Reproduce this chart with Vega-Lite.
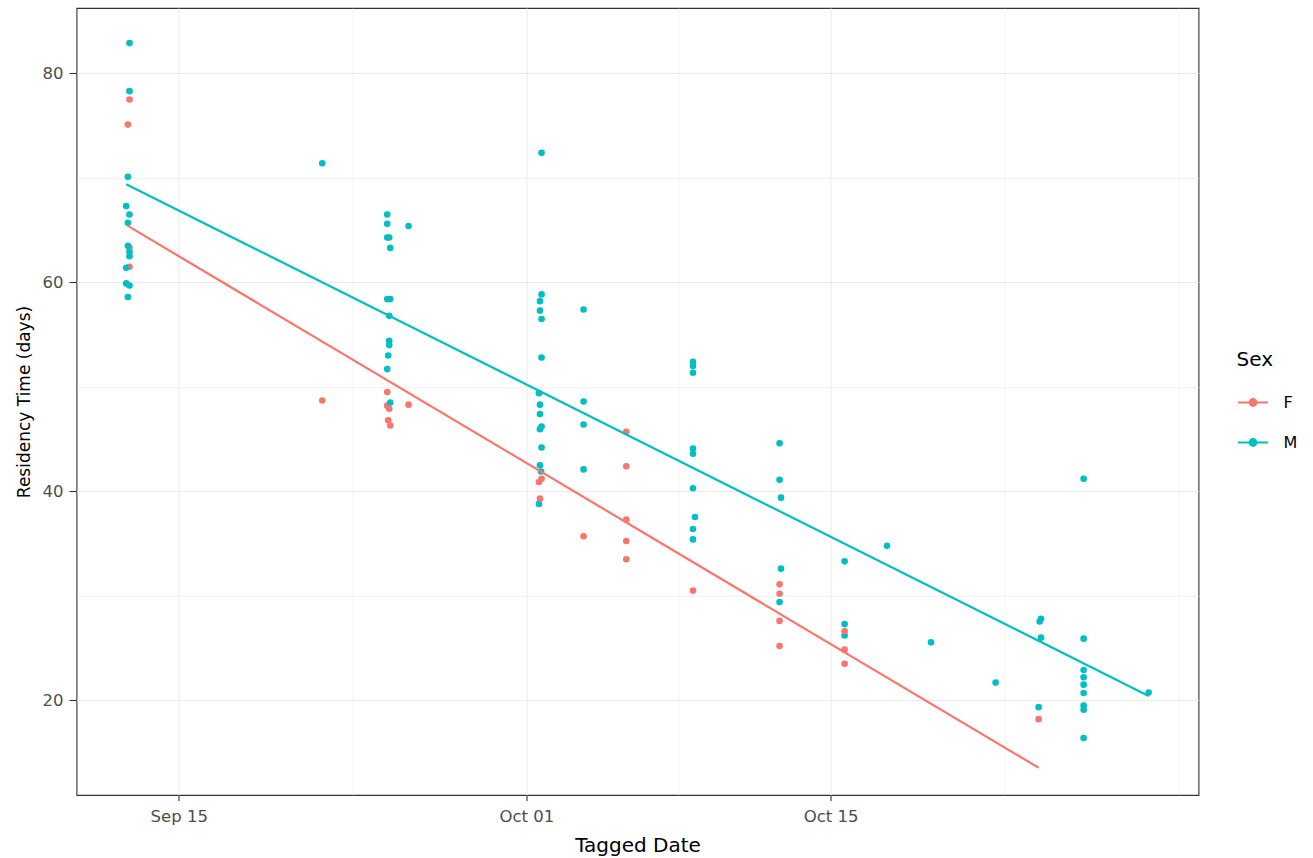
{
  "$schema": "https://vega.github.io/schema/vega-lite/v6.json",
  "autosize": {"type": "none"},
  "width": 1122,
  "height": 787,
  "padding": {"left": 76.5, "top": 8, "right": 114.5, "bottom": 63},
  "background": "white",
  "config": {
    "font": "DejaVu Sans",
    "view": {"stroke": "#333333", "strokeWidth": 1.1, "fill": "white"},
    "axis": {"domain": false, "labelColor": "#4D4D4D", "labelFontSize": 16.5, "labelFont": "DejaVu Sans", "tickColor": "#333333", "tickWidth": 1.1, "gridColor": "#EBEBEB", "titleColor": "black", "titleFontWeight": "normal", "titleFont": "DejaVu Sans"},
    "legend": {"padding": 0}
  },
  "data": {"values": [
    {"Tagged_Date": "2019-09-12T17:40:00Z", "Residency": 82.9, "Sex": "M"},
    {"Tagged_Date": "2019-09-12T17:40:00Z", "Residency": 78.3, "Sex": "M"},
    {"Tagged_Date": "2019-09-12T17:40:00Z", "Residency": 77.5, "Sex": "F"},
    {"Tagged_Date": "2019-09-12T17:40:00Z", "Residency": 66.5, "Sex": "M"},
    {"Tagged_Date": "2019-09-12T17:40:00Z", "Residency": 63.3, "Sex": "F"},
    {"Tagged_Date": "2019-09-12T17:40:00Z", "Residency": 62.9, "Sex": "M"},
    {"Tagged_Date": "2019-09-12T17:40:00Z", "Residency": 62.5, "Sex": "M"},
    {"Tagged_Date": "2019-09-12T17:40:00Z", "Residency": 61.5, "Sex": "F"},
    {"Tagged_Date": "2019-09-12T17:40:00Z", "Residency": 59.7, "Sex": "M"},
    {"Tagged_Date": "2019-09-12T15:53:00Z", "Residency": 75.1, "Sex": "F"},
    {"Tagged_Date": "2019-09-12T15:53:00Z", "Residency": 70.1, "Sex": "M"},
    {"Tagged_Date": "2019-09-12T15:53:00Z", "Residency": 65.7, "Sex": "M"},
    {"Tagged_Date": "2019-09-12T15:53:00Z", "Residency": 63.5, "Sex": "M"},
    {"Tagged_Date": "2019-09-12T15:53:00Z", "Residency": 58.6, "Sex": "M"},
    {"Tagged_Date": "2019-09-12T14:00:00Z", "Residency": 67.3, "Sex": "M"},
    {"Tagged_Date": "2019-09-12T14:00:00Z", "Residency": 61.4, "Sex": "M"},
    {"Tagged_Date": "2019-09-12T14:00:00Z", "Residency": 59.9, "Sex": "M"},
    {"Tagged_Date": "2019-09-21T14:30:00Z", "Residency": 71.4, "Sex": "M"},
    {"Tagged_Date": "2019-09-21T14:30:00Z", "Residency": 48.7, "Sex": "F"},
    {"Tagged_Date": "2019-09-24T14:17:00Z", "Residency": 66.5, "Sex": "M"},
    {"Tagged_Date": "2019-09-24T14:17:00Z", "Residency": 65.6, "Sex": "M"},
    {"Tagged_Date": "2019-09-24T14:17:00Z", "Residency": 64.3, "Sex": "M"},
    {"Tagged_Date": "2019-09-24T14:17:00Z", "Residency": 58.4, "Sex": "M"},
    {"Tagged_Date": "2019-09-24T14:17:00Z", "Residency": 51.7, "Sex": "M"},
    {"Tagged_Date": "2019-09-24T14:17:00Z", "Residency": 49.5, "Sex": "F"},
    {"Tagged_Date": "2019-09-24T14:17:00Z", "Residency": 48.2, "Sex": "F"},
    {"Tagged_Date": "2019-09-24T15:23:00Z", "Residency": 53.0, "Sex": "M"},
    {"Tagged_Date": "2019-09-24T15:23:00Z", "Residency": 46.8, "Sex": "F"},
    {"Tagged_Date": "2019-09-24T16:29:00Z", "Residency": 64.3, "Sex": "M"},
    {"Tagged_Date": "2019-09-24T16:29:00Z", "Residency": 56.8, "Sex": "M"},
    {"Tagged_Date": "2019-09-24T16:29:00Z", "Residency": 54.4, "Sex": "M"},
    {"Tagged_Date": "2019-09-24T16:29:00Z", "Residency": 54.0, "Sex": "M"},
    {"Tagged_Date": "2019-09-24T16:29:00Z", "Residency": 47.9, "Sex": "F"},
    {"Tagged_Date": "2019-09-24T17:35:00Z", "Residency": 63.3, "Sex": "M"},
    {"Tagged_Date": "2019-09-24T17:35:00Z", "Residency": 58.4, "Sex": "M"},
    {"Tagged_Date": "2019-09-24T17:35:00Z", "Residency": 48.5, "Sex": "M"},
    {"Tagged_Date": "2019-09-24T17:35:00Z", "Residency": 46.3, "Sex": "F"},
    {"Tagged_Date": "2019-09-25T13:48:00Z", "Residency": 65.4, "Sex": "M"},
    {"Tagged_Date": "2019-09-25T13:48:00Z", "Residency": 48.3, "Sex": "F"},
    {"Tagged_Date": "2019-10-01T13:49:00Z", "Residency": 49.4, "Sex": "M"},
    {"Tagged_Date": "2019-10-01T13:49:00Z", "Residency": 38.8, "Sex": "M"},
    {"Tagged_Date": "2019-10-01T13:49:00Z", "Residency": 40.9, "Sex": "F"},
    {"Tagged_Date": "2019-10-01T14:56:00Z", "Residency": 58.2, "Sex": "M"},
    {"Tagged_Date": "2019-10-01T14:56:00Z", "Residency": 57.3, "Sex": "M"},
    {"Tagged_Date": "2019-10-01T14:56:00Z", "Residency": 48.3, "Sex": "M"},
    {"Tagged_Date": "2019-10-01T14:56:00Z", "Residency": 47.4, "Sex": "M"},
    {"Tagged_Date": "2019-10-01T14:56:00Z", "Residency": 45.95, "Sex": "M"},
    {"Tagged_Date": "2019-10-01T14:56:00Z", "Residency": 42.5, "Sex": "M"},
    {"Tagged_Date": "2019-10-01T14:56:00Z", "Residency": 39.3, "Sex": "F"},
    {"Tagged_Date": "2019-10-01T16:10:00Z", "Residency": 41.9, "Sex": "M"},
    {"Tagged_Date": "2019-10-01T16:42:00Z", "Residency": 72.4, "Sex": "M"},
    {"Tagged_Date": "2019-10-01T16:42:00Z", "Residency": 58.85, "Sex": "M"},
    {"Tagged_Date": "2019-10-01T16:42:00Z", "Residency": 56.5, "Sex": "M"},
    {"Tagged_Date": "2019-10-01T16:42:00Z", "Residency": 52.8, "Sex": "M"},
    {"Tagged_Date": "2019-10-01T16:42:00Z", "Residency": 46.2, "Sex": "M"},
    {"Tagged_Date": "2019-10-01T16:42:00Z", "Residency": 44.2, "Sex": "M"},
    {"Tagged_Date": "2019-10-01T16:42:00Z", "Residency": 41.2, "Sex": "F"},
    {"Tagged_Date": "2019-10-03T15:06:00Z", "Residency": 57.4, "Sex": "M"},
    {"Tagged_Date": "2019-10-03T15:06:00Z", "Residency": 48.6, "Sex": "M"},
    {"Tagged_Date": "2019-10-03T15:06:00Z", "Residency": 46.4, "Sex": "M"},
    {"Tagged_Date": "2019-10-03T15:06:00Z", "Residency": 42.1, "Sex": "M"},
    {"Tagged_Date": "2019-10-03T15:06:00Z", "Residency": 35.7, "Sex": "F"},
    {"Tagged_Date": "2019-10-05T14:15:00Z", "Residency": 45.7, "Sex": "F"},
    {"Tagged_Date": "2019-10-05T14:15:00Z", "Residency": 42.4, "Sex": "F"},
    {"Tagged_Date": "2019-10-05T14:15:00Z", "Residency": 37.3, "Sex": "F"},
    {"Tagged_Date": "2019-10-05T14:15:00Z", "Residency": 35.25, "Sex": "F"},
    {"Tagged_Date": "2019-10-05T14:15:00Z", "Residency": 33.5, "Sex": "F"},
    {"Tagged_Date": "2019-10-08T15:55:00Z", "Residency": 52.4, "Sex": "M"},
    {"Tagged_Date": "2019-10-08T15:55:00Z", "Residency": 52.0, "Sex": "M"},
    {"Tagged_Date": "2019-10-08T15:55:00Z", "Residency": 51.35, "Sex": "M"},
    {"Tagged_Date": "2019-10-08T15:55:00Z", "Residency": 44.1, "Sex": "M"},
    {"Tagged_Date": "2019-10-08T15:55:00Z", "Residency": 43.6, "Sex": "M"},
    {"Tagged_Date": "2019-10-08T15:55:00Z", "Residency": 40.3, "Sex": "M"},
    {"Tagged_Date": "2019-10-08T15:55:00Z", "Residency": 36.4, "Sex": "M"},
    {"Tagged_Date": "2019-10-08T15:55:00Z", "Residency": 35.4, "Sex": "M"},
    {"Tagged_Date": "2019-10-08T15:55:00Z", "Residency": 30.5, "Sex": "F"},
    {"Tagged_Date": "2019-10-08T18:07:00Z", "Residency": 37.55, "Sex": "M"},
    {"Tagged_Date": "2019-10-12T15:33:00Z", "Residency": 44.6, "Sex": "M"},
    {"Tagged_Date": "2019-10-12T15:33:00Z", "Residency": 41.1, "Sex": "M"},
    {"Tagged_Date": "2019-10-12T15:33:00Z", "Residency": 29.4, "Sex": "M"},
    {"Tagged_Date": "2019-10-12T15:33:00Z", "Residency": 31.1, "Sex": "F"},
    {"Tagged_Date": "2019-10-12T15:33:00Z", "Residency": 30.2, "Sex": "F"},
    {"Tagged_Date": "2019-10-12T15:33:00Z", "Residency": 27.6, "Sex": "F"},
    {"Tagged_Date": "2019-10-12T15:33:00Z", "Residency": 25.2, "Sex": "F"},
    {"Tagged_Date": "2019-10-12T17:07:00Z", "Residency": 39.4, "Sex": "M"},
    {"Tagged_Date": "2019-10-12T17:07:00Z", "Residency": 32.6, "Sex": "M"},
    {"Tagged_Date": "2019-10-15T15:22:00Z", "Residency": 33.3, "Sex": "M"},
    {"Tagged_Date": "2019-10-15T15:22:00Z", "Residency": 27.3, "Sex": "M"},
    {"Tagged_Date": "2019-10-15T15:22:00Z", "Residency": 26.2, "Sex": "M"},
    {"Tagged_Date": "2019-10-15T15:22:00Z", "Residency": 26.6, "Sex": "F"},
    {"Tagged_Date": "2019-10-15T15:22:00Z", "Residency": 24.85, "Sex": "F"},
    {"Tagged_Date": "2019-10-15T15:22:00Z", "Residency": 23.5, "Sex": "F"},
    {"Tagged_Date": "2019-10-17T14:11:00Z", "Residency": 34.8, "Sex": "M"},
    {"Tagged_Date": "2019-10-19T14:47:00Z", "Residency": 25.55, "Sex": "M"},
    {"Tagged_Date": "2019-10-22T14:08:00Z", "Residency": 21.7, "Sex": "M"},
    {"Tagged_Date": "2019-10-24T13:37:00Z", "Residency": 19.35, "Sex": "M"},
    {"Tagged_Date": "2019-10-24T13:37:00Z", "Residency": 18.2, "Sex": "F"},
    {"Tagged_Date": "2019-10-24T14:43:00Z", "Residency": 27.55, "Sex": "M"},
    {"Tagged_Date": "2019-10-24T16:16:00Z", "Residency": 27.8, "Sex": "M"},
    {"Tagged_Date": "2019-10-24T16:16:00Z", "Residency": 26.0, "Sex": "M"},
    {"Tagged_Date": "2019-10-26T15:19:00Z", "Residency": 41.2, "Sex": "M"},
    {"Tagged_Date": "2019-10-26T15:19:00Z", "Residency": 25.9, "Sex": "M"},
    {"Tagged_Date": "2019-10-26T15:19:00Z", "Residency": 22.9, "Sex": "M"},
    {"Tagged_Date": "2019-10-26T15:19:00Z", "Residency": 22.2, "Sex": "M"},
    {"Tagged_Date": "2019-10-26T15:19:00Z", "Residency": 21.5, "Sex": "M"},
    {"Tagged_Date": "2019-10-26T15:19:00Z", "Residency": 20.7, "Sex": "M"},
    {"Tagged_Date": "2019-10-26T15:19:00Z", "Residency": 19.5, "Sex": "M"},
    {"Tagged_Date": "2019-10-26T15:19:00Z", "Residency": 19.1, "Sex": "M"},
    {"Tagged_Date": "2019-10-26T15:19:00Z", "Residency": 16.4, "Sex": "M"},
    {"Tagged_Date": "2019-10-29T15:07:00Z", "Residency": 20.75, "Sex": "M"}
  ], "format": {"parse": {"Tagged_Date": "date"}}},
  "resolve": {"axis": {"x": "independent", "y": "independent"}},
  "layer": [
    {
      "mark": {"type": "circle", "size": 44, "opacity": 1, "strokeWidth": 0},
      "encoding": {
        "x": {"field": "Tagged_Date", "type": "temporal",
          "scale": {"type": "utc", "domain": [{"year": 2019, "month": "Sep", "date": 10, "hours": 7, "minutes": 8, "utc": true}, {"year": 2019, "month": "Oct", "date": 31, "hours": 22, "minutes": 10, "utc": true}], "nice": false},
          "axis": {"orient": "top", "values": [{"year": 2019, "month": "Sep", "date": 23, "utc": true}, {"year": 2019, "month": "Oct", "date": 8, "utc": true}, {"year": 2019, "month": "Oct", "date": 23, "utc": true}, {"year": 2019, "month": "Oct", "date": 31, "utc": true}], "labels": false, "ticks": false, "title": null, "grid": true, "gridWidth": 0.55}},
        "y": {"field": "Residency", "type": "quantitative",
          "scale": {"domain": [10.94, 86.26], "nice": false, "zero": false},
          "axis": {"orient": "right", "values": [30, 50, 70], "labels": false, "ticks": false, "title": null, "grid": true, "gridWidth": 0.55}},
        "fill": {"field": "Sex", "type": "nominal", "scale": {"domain": ["F", "M"], "range": ["#F8766D", "#00BFC4"]},
          "legend": {"title": "Sex", "orient": "none", "legendX": 1160, "legendY": 342, "symbolType": "M -1 0 L 1 0 M -0.22 0 A 0.22 0.22 0 1 1 0.22 0 A 0.22 0.22 0 1 1 -0.22 0 Z", "symbolSize": 900, "symbolStrokeWidth": 2.2, "labelFont": "DejaVu Sans", "labelFontSize": 16, "labelColor": "black", "labelOffset": 14, "titleFont": "DejaVu Sans", "titleFontSize": 20, "titleFontWeight": "normal", "titleColor": "black", "titlePadding": 16, "rowPadding": 15}}
      }
    },
    {
      "transform": [{"regression": "Residency", "on": "Tagged_Date", "groupby": ["Sex"], "method": "linear"}],
      "mark": {"type": "line", "strokeWidth": 2.2},
      "encoding": {
        "x": {"field": "Tagged_Date", "type": "temporal",
          "axis": {"orient": "bottom", "values": [{"year": 2019, "month": "Sep", "date": 15, "utc": true}, {"year": 2019, "month": "Oct", "date": 1, "utc": true}, {"year": 2019, "month": "Oct", "date": 15, "utc": true}], "format": "%b %d", "title": "Tagged Date", "titleFontSize": 20, "grid": true, "gridWidth": 1.1, "tickSize": 5.5, "labelPadding": 8, "titlePadding": 10, "labelFlush": false}},
        "y": {"field": "Residency", "type": "quantitative",
          "axis": {"orient": "left", "values": [20, 40, 60, 80], "title": "Residency Time (days)", "titleFontSize": 17, "grid": true, "gridWidth": 1.1, "tickSize": 7.5, "labelPadding": 6, "titlePadding": 9}},
        "stroke": {"field": "Sex", "type": "nominal", "scale": {"domain": ["F", "M"], "range": ["#F8766D", "#00BFC4"]},
          "legend": {"title": "Sex", "orient": "none", "legendX": 1160, "legendY": 342, "symbolType": "M -1 0 L 1 0 M -0.22 0 A 0.22 0.22 0 1 1 0.22 0 A 0.22 0.22 0 1 1 -0.22 0 Z", "symbolSize": 900, "symbolStrokeWidth": 2.2, "labelFont": "DejaVu Sans", "labelFontSize": 16, "labelColor": "black", "labelOffset": 14, "titleFont": "DejaVu Sans", "titleFontSize": 20, "titleFontWeight": "normal", "titleColor": "black", "titlePadding": 16, "rowPadding": 15}}
      }
    }
  ]
}
